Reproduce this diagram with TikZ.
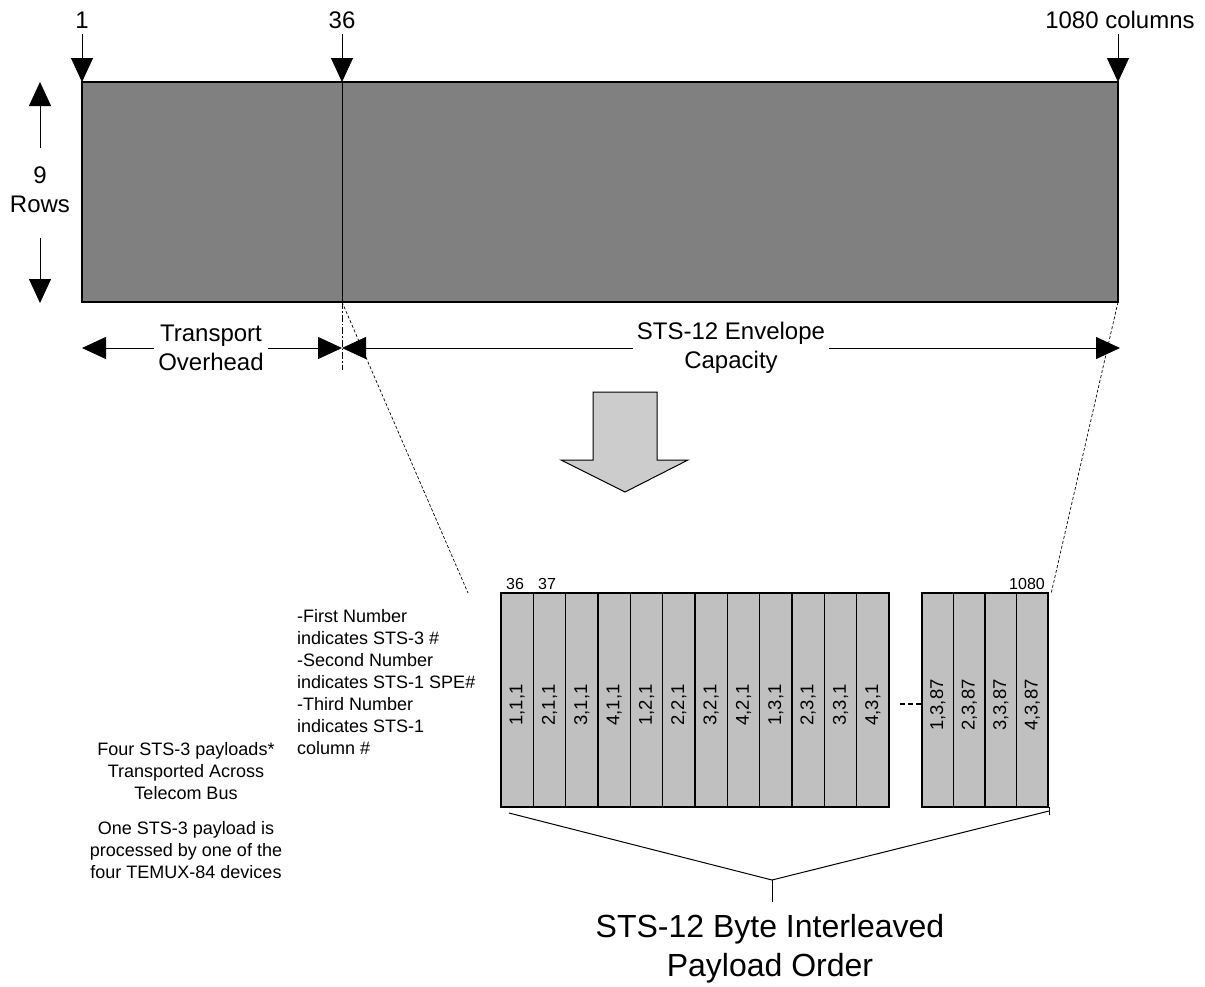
\documentclass[tikz,border=0pt]{standalone}
\usepackage{fontspec}
\setmainfont{Liberation Sans}
\usetikzlibrary{arrows.meta}
\definecolor{darkbox}{HTML}{808080}
\definecolor{colfill}{HTML}{C0C0C0}
\definecolor{arrowfill}{HTML}{CCCCCC}
\tikzset{
  bigtip/.style={-{Triangle[length=24pt,width=22pt]}, line width=0.8pt},
  biglbl/.style={inner sep=0pt, font=\fontsize{24}{29}\selectfont, align=center},
  collbl/.style={inner sep=0pt, font=\fontsize{18.5}{20}\selectfont, rotate=90},
  toplbl/.style={inner sep=0pt, font=\fontsize{16}{19}\selectfont},
  notelbl/.style={inner sep=0pt, font=\fontsize{18}{22}\selectfont},
  colbox/.style={draw=black, fill=colfill, line width=1.6pt, minimum height=214pt, inner sep=0pt, outer sep=0pt, anchor=north west},
  guide/.style={line width=0.7pt, dash pattern=on 3pt off 2pt},
  dashdot/.style={line width=0.7pt, dash pattern=on 7pt off 2pt on 1.5pt off 2pt},
}
\begin{document}
\begin{tikzpicture}[x=1pt,y=-1pt]
\useasboundingbox (0,0) rectangle (1205,986);
\fill[white] (0,0) rectangle (1205,986);

% main frame
\node (frame) [draw=black, fill=darkbox, line width=2pt, minimum width=1036pt, minimum height=220pt, inner sep=0pt, outer sep=0pt, anchor=north west] at (82,82) {};
\coordinate (c36top) at (342,82);
\coordinate (c36bot) at (342,302);
\draw[line width=1pt] (c36top) -- (c36bot);

% top labels and arrows
\node (l1) [biglbl] at (82,20) {1};
\node (l36) [biglbl] at (342,20) {36};
\node (l1080) [biglbl] at (1120,20) {1080 columns};
\coordinate (a1) at (82,34);
\coordinate (a36) at (342,34);
\coordinate (a1080) at (1118,34);
\draw[bigtip] (a1) -- (frame.north west);
\draw[bigtip] (a36) -- (c36top);
\draw[bigtip] (a1080) -- (frame.north east);

% rows
\node (nine) [biglbl] at (40,190) {9\\Rows};
\coordinate (rup) at (40,148);
\coordinate (rupt) at (40,82);
\coordinate (rdn) at (40,238);
\coordinate (rdnt) at (40,303);
\draw[bigtip] (rup) -- (rupt);
\draw[bigtip] (rdn) -- (rdnt);

% horizontal dimension arrows
\node (toh) [biglbl] at (211,348) {Transport\\Overhead};
\node (env) [biglbl] at (731,348) {STS-12 Envelope\\Capacity};
\coordinate (hl) at (82,348);
\coordinate (hm) at (342,348);
\coordinate (hr) at (1120,348);
\draw[bigtip] (toh.west |- hl) ++(-4,0) -- (hl);
\draw[bigtip] (toh.east |- hl) ++(4,0) -- (hm);
\draw[bigtip] (env.west |- hl) ++(-4,0) -- (hm);
\draw[bigtip] (env.east |- hl) ++(4,0) -- (hr);
\coordinate (ddend) at (342,370);
\draw[dashdot] (c36bot) -- (ddend);

% big down arrow
\draw[fill=arrowfill, line width=1pt] (593,392) -- (657,392) -- (657,460) -- (688,460) -- (625,492) -- (561,460) -- (593,460) -- cycle;

% columns
\foreach \i/\t in {1/{1,1,1},2/{2,1,1},3/{3,1,1},4/{4,1,1},5/{1,2,1},6/{2,2,1},7/{3,2,1},8/{4,2,1},9/{1,3,1},10/{2,3,1},11/{3,3,1},12/{4,3,1}}{
  \node (c\i) [colbox, minimum width=32.33pt] at ({501+(\i-1)*32.33},593) {};
  \node (t\i) [collbl] at ({501+(\i-0.5)*32.33},705) {\t};
}
\foreach \i/\t in {13/{1,3,87},14/{2,3,87},15/{3,3,87},16/{4,3,87}}{
  \node (c\i) [colbox, minimum width=31.5pt] at ({922+(\i-13)*31.5},593) {};
  \node (t\i) [collbl] at ({922+(\i-12.5)*31.5},705) {\t};
}
\node (n36) [toplbl, anchor=base] at (515,589) {36};
\node (n37) [toplbl, anchor=base] at (547,589) {37};
\node (n1080) [toplbl, anchor=base east] at (1045,589) {1080};
\coordinate (gapa) at (900,704);
\coordinate (gapb) at (922,704);
\draw[line width=2pt, dash pattern=on 5pt off 3pt] (gapa) -- (gapb);

% projection guides
\coordinate (gl) at (468,593);
\coordinate (gr) at (1051,594);
\draw[guide] (c36bot) -- (gl);
\draw[guide] (frame.south east) -- (gr);

% bottom brace
\coordinate (bl) at (509,813);
\coordinate (apex) at (772,880);
\coordinate (br) at (1049,811);
\coordinate (brt) at (1049,807);
\coordinate (brb) at (1049,815);
\coordinate (stem) at (772,902);
\draw[line width=1pt] (bl) -- (apex) -- (br);
\draw[line width=1pt] (brt) -- (brb);
\draw[line width=1pt] (apex) -- (stem);
\node (title) [inner sep=0pt, font=\fontsize{32}{39}\selectfont, align=center, anchor=north] at (770,914) {STS-12 Byte Interleaved\\Payload Order};

% notes
\node (legend) [notelbl, align=left, anchor=north west] at (297,609) {-First Number\\indicates STS-3 \#\\-Second Number\\indicates STS-1 SPE\#\\-Third Number\\indicates STS-1\\column \#};
\node (four) [notelbl, align=center, anchor=north] at (186,742) {Four STS-3 payloads*\\Transported Across\\Telecom Bus};
\node (one) [notelbl, align=center, anchor=north] at (186,821) {One STS-3 payload is\\processed by one of the\\four TEMUX-84 devices};
\end{tikzpicture}
\end{document}
